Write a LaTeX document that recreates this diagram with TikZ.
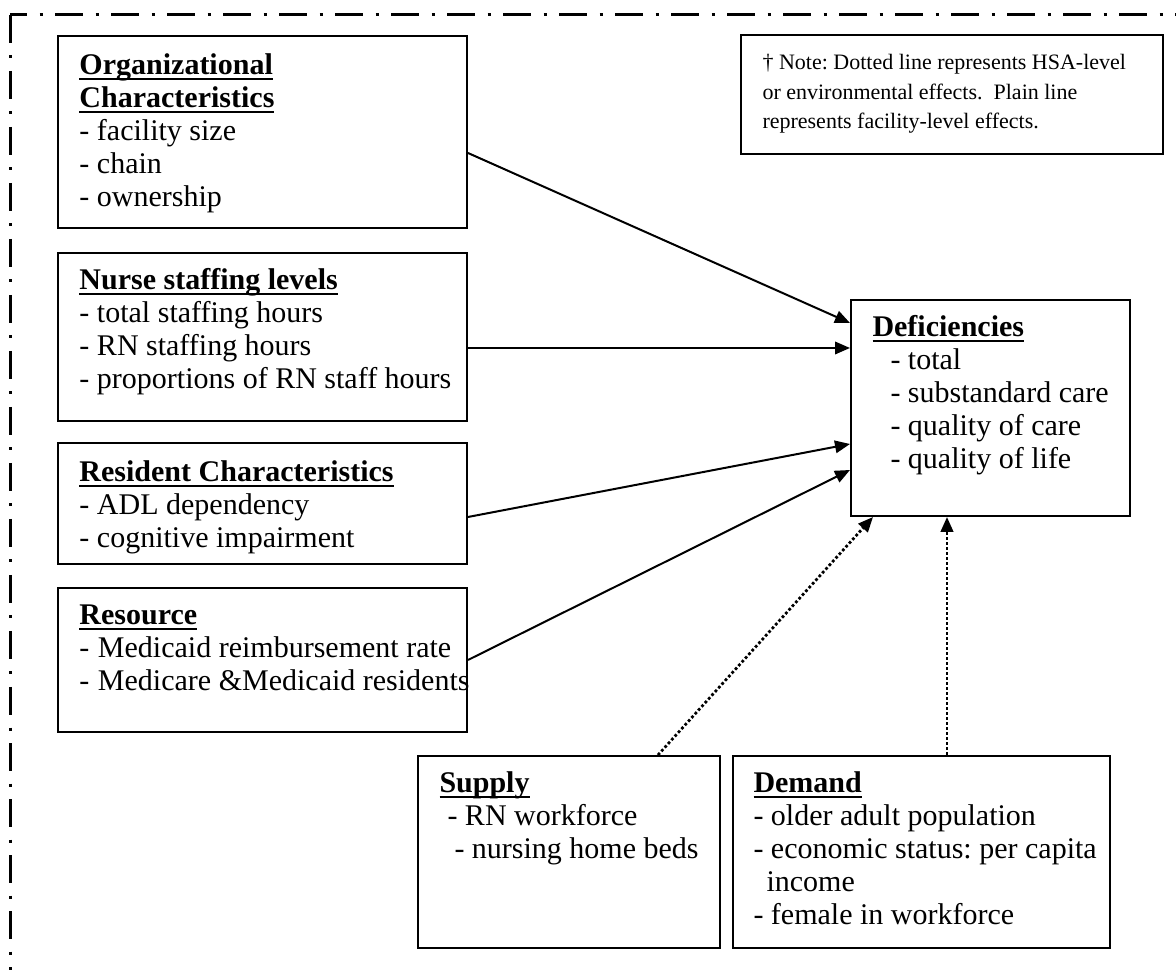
\documentclass[tikz,border=0pt]{standalone}
\usepackage{fontspec}
\setmainfont{Liberation Serif}
\usetikzlibrary{positioning, fit, arrows.meta}
\frenchspacing

\newcommand{\hdr}[1]{\setbox0\hbox{\bfseries #1}\rlap{\rule[-2.2pt]{\wd0}{0.9pt}}\box0}
\newcommand{\rows}[1]{\begin{tabular}[t]{@{}l@{}}#1\end{tabular}}

\tikzset{
  panel/.style={draw, line width=0.8pt, inner sep=0pt},
  body/.style={anchor=base west, inner sep=0pt, font=\fontsize{12}{13.2}\selectfont},
  notebody/.style={body, font=\fontsize{8.8}{11.8}\selectfont},
  link/.style={-{Triangle[length=6pt, width=5pt]}, line width=0.8pt},
  hsa/.style={link, line width=1.1pt, dash pattern=on 1.1pt off 0.9pt},
  frame/.style={line width=1.2pt, dash pattern=on 11.2pt off 5pt on 1.2pt off 5pt},
}

\begin{document}
\begin{tikzpicture}[x=0.4pt, y=-0.4pt]
    \useasboundingbox (0,0) rectangle (1176,970);

    % outer frame
    \draw[frame, dash phase=4.4pt] (10,15) -- (1190,15);
    \draw[frame] (10,15) -- (10,985);

    % boxes
    \node[panel, fit={(58,36) (467,228)}] (org) {};
    \node[panel, fit={(58,253) (467,421)}] (nurse) {};
    \node[panel, fit={(58,443) (467,564)}] (resident) {};
    \node[panel, fit={(58,588) (467,732)}] (resource) {};
    \node[panel, fit={(741,35) (1163,154)}] (note) {};
    \node[panel, fit={(851,300) (1130,516)}] (def) {};
    \node[panel, fit={(418,756) (720,948)}] (supply) {};
    \node[panel, fit={(733,756) (1110,948)}] (demand) {};

    % texts
    \node[body] (orgtxt) at (79,75) {\rows{\hdr{Organizational}\\ \hdr{Characteristics}\\
        - facility size\\ - chain\\ - ownership}};
    \node[body] (nursetxt) at (79,290) {\rows{\hdr{Nurse staffing levels}\\
        - total staffing hours\\ - RN staffing hours\\ - proportions of RN staff hours}};
    \node[body] (restxt) at (79,482) {\rows{\hdr{Resident Characteristics}\\
        - ADL dependency\\ - cognitive impairment}};
    \node[body] (srctxt) at (79,625) {\rows{\hdr{Resource}\\
        -\hspace{3.4pt}Medicaid reimbursement rate\\ -\hspace{3.4pt}Medicare \&Medicaid residents}};
    \node[notebody] (notetxt) at (762,70) {\rows{\dag{} Note: Dotted line represents HSA-level\\
        or environmental effects.\hspace{0.5em}Plain line\\ represents facility-level effects.}};
    \node[body] (deftxt) at (872,337) {\rows{\hdr{Deficiencies}\\
        \hspace*{7.2pt}- total\\ \hspace*{7.2pt}- substandard care\\
        \hspace*{7.2pt}- quality of care\\ \hspace*{7.2pt}- quality of life}};
    \node[body] (suptxt) at (439,793) {\rows{\hdr{Supply}\\
        \hspace*{3.2pt}- RN workforce\\ \hspace*{6pt}- nursing home beds}};
    \node[body] (demtxt) at (753,793) {\rows{\hdr{Demand}\\
        - older adult population\\ - economic status: per capita\\
        \hspace*{5.2pt}income\\ - female in workforce}};

    % facility-level effects
    \draw[link] (org.east |- 0,153) -- (def.west |- 0,323);
    \draw[link] (nurse.east |- 0,348) -- (def.west |- 0,348);
    \draw[link] (resident.east |- 0,517) -- (def.west |- 0,444);
    \draw[link] (resource.east |- 0,660) -- (def.west |- 0,470);
    % HSA-level effects
    \draw[hsa] (supply.north -| 658,0) -- (def.south -| 873,0);
    \draw[hsa] (demand.north -| 947,0) -- (def.south -| 947,0);
\end{tikzpicture}
\end{document}
